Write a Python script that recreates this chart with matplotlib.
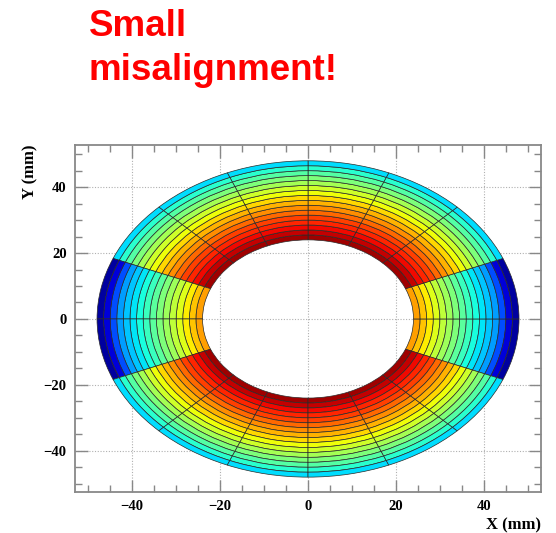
#!/usr/bin/env python3
"""Ring-segment map of the annulus, showing a small misalignment of the side sectors."""

import matplotlib.pyplot as plt
import numpy as np
from matplotlib.collections import PatchCollection
from matplotlib.patches import Wedge
from matplotlib.ticker import MultipleLocator

# ── data ─────────────────────────────────────────────────────────────
r_inner = 24.0
r_outer = 48.0
n_rings = 16
sector_step = 22.5  # degrees

# colour value per ring (inner -> outer), on the jet scale
top_bottom_vals = [0.97, 0.94, 0.90, 0.87, 0.84, 0.80, 0.76, 0.72,
                   0.68, 0.64, 0.60, 0.55, 0.50, 0.45, 0.40, 0.34]
side_vals = [0.74, 0.70, 0.66, 0.62, 0.58, 0.54, 0.50, 0.46,
             0.42, 0.38, 0.35, 0.32, 0.28, 0.20, 0.08, 0.03]
# sectors (start angle, deg) that belong to the shifted side modules
side_sectors = [-22.5, 0.0, 157.5, 180.0]

x_ticks = [-40, -20, 0, 20, 40]
y_ticks = [-40, -20, 0, 20, 40]

# ── plot ─────────────────────────────────────────────────────────────
fig = plt.figure(figsize=(5.56, 5.33), dpi=100)
ax = fig.add_axes([0.135, 0.077, 0.838, 0.651])

edges = np.linspace(r_inner, r_outer, n_rings + 1)
patches, values = [], []
for t0 in np.arange(-22.5, 337.5, sector_step):
    vals = side_vals if t0 in side_sectors else top_bottom_vals
    for i in range(n_rings):
        patches.append(Wedge((0, 0), edges[i + 1], t0, t0 + sector_step,
                             width=edges[i + 1] - edges[i]))
        values.append(vals[i])

pc = PatchCollection(patches, cmap="jet", edgecolor="#2a2a2a", linewidth=0.5, zorder=2)
pc.set_array(np.array(values))
pc.set_clim(0, 1)
ax.add_collection(pc)

ax.set_xlim(-53, 53)
ax.set_ylim(-52.5, 52.8)

ax.set_xticks(x_ticks)
ax.set_yticks(y_ticks)
ax.set_xticklabels([f"\u2212{abs(v)}" if v < 0 else str(v) for v in x_ticks])
ax.set_yticklabels([f"\u2212{abs(v)}" if v < 0 else str(v) for v in y_ticks])
ax.xaxis.set_minor_locator(MultipleLocator(5))
ax.yaxis.set_minor_locator(MultipleLocator(5))
ax.tick_params(which="both", direction="in", top=True, right=True, color="#888888",
               labelsize=10.5, pad=6)
ax.tick_params(which="major", length=9, width=1.0)
ax.tick_params(which="minor", length=5, width=1.0)
for lbl in ax.get_xticklabels() + ax.get_yticklabels():
    lbl.set_fontfamily("Liberation Serif")
    lbl.set_fontweight("bold")

ax.grid(True, which="major", ls=(0, (1, 1.5)), color="#b0b0b0", lw=0.8, zorder=0)
ax.set_axisbelow(True)
for s in ax.spines.values():
    s.set_color("#888888")
    s.set_linewidth(1.3)

fig.text(0.973, 0.006, "X (mm)", ha="right", va="baseline", fontsize=12,
         fontfamily="Liberation Serif", fontweight="bold")
fig.text(0.055, 0.728, "Y (mm)", ha="center", va="top", rotation=90, fontsize=12,
         fontfamily="Liberation Serif", fontweight="bold")

fig.text(0.160, 1 - 36 / 533, "Small", color="red", fontsize=26.5, fontweight="bold",
         fontfamily="Liberation Sans", ha="left", va="baseline")
fig.text(0.160, 1 - 80 / 533, "misalignment!", color="red", fontsize=26.5, fontweight="bold",
         fontfamily="Liberation Sans", ha="left", va="baseline")

fig.savefig("out.png", dpi=100, facecolor="white")
plt.close()
